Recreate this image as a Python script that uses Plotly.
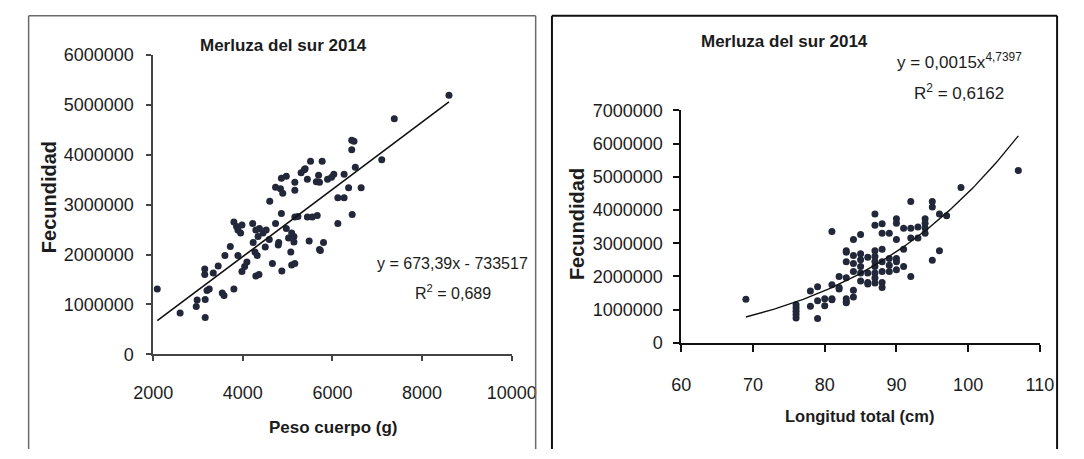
import numpy as np
import plotly.graph_objects as go

# ---- Panel 1: fecundity vs body weight ----
peso_g = [2090, 2600, 2960, 2980, 3160, 3160, 3200, 3250, 3150, 3150, 3340, 3450, 3540, 3580,
          3800, 3600, 3720, 3890, 3980, 4040, 4090, 3800, 3860, 3890, 3950, 3980, 4220, 4290,
          4340, 4370, 4450, 4520, 4230, 4270, 4320, 4290, 4360, 4500, 4590, 4660, 4790, 4870,
          5090, 5160, 5070, 5020, 5140, 5140, 4970, 4730, 4860, 5160, 4600, 4730, 4840, 4890,
          4860, 4970, 5160, 5160, 5300, 5370, 5440, 8600, 7380, 6430, 6480, 6430, 7100, 6510,
          6640, 6360, 6120, 6260, 6440, 6120, 6260, 6030, 5980, 5890, 5690, 5640, 5710, 5440,
          5770, 5510, 5390, 5550, 5660, 5480, 5800, 5710, 5230, 5090, 5730, 4800]
fec_peso = [1310000, 830000, 960000, 1090000, 1100000, 740000, 1280000, 1310000, 1600000,
            1710000, 1630000, 1770000, 1230000, 1180000, 1310000, 1980000, 2160000, 1980000,
            1660000, 1760000, 1850000, 2650000, 2560000, 2490000, 2430000, 2590000, 2620000,
            2490000, 2360000, 2520000, 2430000, 2490000, 2240000, 2050000, 1980000, 1570000,
            1600000, 2150000, 2300000, 1820000, 2190000, 1670000, 1790000, 1820000, 2050000,
            2330000, 2360000, 2250000, 2520000, 2620000, 2820000, 2750000, 3070000, 3350000,
            3320000, 3230000, 3530000, 3570000, 3450000, 3290000, 3640000, 3700000, 2750000,
            5190000, 4720000, 4290000, 4270000, 4100000, 3900000, 3750000, 3340000, 3340000,
            3140000, 3140000, 2800000, 2620000, 3610000, 3610000, 3550000, 3510000, 3590000,
            3460000, 3450000, 3510000, 3870000, 3870000, 3720000, 2750000, 2780000, 2270000,
            2240000, 2100000, 2760000, 2430000, 2080000, 2240000]

# ---- Panel 2: fecundity vs total length ----
longitud_cm = [69, 76, 76, 76, 76, 76, 79, 78, 79, 78, 79, 80, 81, 81, 82, 82, 81, 83, 83, 83,
               99, 92, 95, 95, 96, 97, 94, 94, 94, 94, 96, 95, 93, 93, 92, 92, 91, 90, 90, 90,
               91, 92, 91, 90, 90, 90, 89, 89, 89, 88, 88, 89, 87, 87, 88, 88, 88, 88, 88, 87,
               87, 87, 87, 87, 87, 87, 86, 86, 86, 85, 85, 85, 85, 84, 84, 84, 84, 85, 83, 83,
               85, 86, 84, 84, 83, 82, 80, 81, 83, 107]
fec_long = [1310000, 750000, 850000, 950000, 1050000, 1150000, 730000, 1560000, 1690000,
            1100000, 1270000, 1120000, 1300000, 1750000, 2000000, 1620000, 3350000, 2730000,
            2440000, 1210000, 4680000, 4260000, 4260000, 4090000, 3880000, 3830000, 3740000,
            3600000, 3460000, 3300000, 2770000, 2490000, 3490000, 3160000, 3450000, 3160000,
            3450000, 3740000, 3600000, 3110000, 2820000, 2000000, 2300000, 2540000, 2440000,
            2200000, 2540000, 2340000, 2150000, 2820000, 3300000, 3300000, 3880000, 3540000,
            3590000, 2440000, 2150000, 1820000, 1670000, 2770000, 2600000, 2450000, 2300000,
            2100000, 1950000, 1800000, 2580000, 2100000, 1820000, 2680000, 2500000, 2300000,
            2100000, 2630000, 2390000, 2150000, 3110000, 3260000, 2770000, 1960000, 1860000,
            1770000, 1580000, 1380000, 1240000, 1670000, 1330000, 1330000, 1330000, 5190000]

# Fitted trend lines as reported on the chart
lin_a, lin_b = 673.39, -733517
pot_a, pot_b = 0.0015, 4.7397

W, H = 1084, 459
NARROW = "Liberation Sans Narrow, Arial Narrow, Liberation Sans, Arial, sans-serif"
WIDE = "Liberation Sans, Arial, sans-serif"
INK = "#1c1c1c"
DOT = "#22283a"


def fx(p):
    return p / W


def fy(p):
    return 1 - p / H


fig = go.Figure()

fig.add_trace(go.Scatter(x=peso_g, y=fec_peso, mode="markers",
                         marker=dict(size=7, color=DOT), xaxis="x", yaxis="y",
                         showlegend=False))
xl = np.array([min(peso_g), max(peso_g)])
fig.add_trace(go.Scatter(x=xl, y=lin_a * xl + lin_b, mode="lines",
                         line=dict(color="#111111", width=1.6), xaxis="x", yaxis="y",
                         showlegend=False))

fig.add_trace(go.Scatter(x=longitud_cm, y=fec_long, mode="markers",
                         marker=dict(size=7, color=DOT), xaxis="x2", yaxis="y2",
                         showlegend=False))
xp = np.linspace(min(longitud_cm), max(longitud_cm), 120)
fig.add_trace(go.Scatter(x=xp, y=pot_a * xp ** pot_b, mode="lines",
                         line=dict(color="#111111", width=1.4), xaxis="x2", yaxis="y2",
                         showlegend=False))

tick_font = dict(family=NARROW, size=18, color=INK)
common = dict(showgrid=False, zeroline=False, showline=True, ticks="outside",
              tickfont=tick_font, tickformat="d", fixedrange=True)

fig.update_layout(
    width=W, height=H,
    margin=dict(l=0, r=0, t=0, b=0),
    paper_bgcolor="white", plot_bgcolor="white",
    xaxis=dict(domain=[fx(139), fx(513)], range=[2000, 10000], tickvals=[2000, 4000, 6000, 8000, 10000],
               anchor="y", linecolor="#444444", linewidth=1.5, ticklen=5, tickwidth=1.5,
               tickcolor="#444444", ticklabelstandoff=16, **common),
    yaxis=dict(domain=[fy(360), fy(47)], range=[0, 6000000], tickvals=list(range(0, 6000001, 1000000)),
               anchor="x", linecolor="#444444", linewidth=1.5, ticklen=5,
               tickwidth=1.5, tickcolor="#444444", ticklabelstandoff=9, **common),
    xaxis2=dict(domain=[fx(690), fx(1064)], range=[60, 110], tickvals=[60, 70, 80, 90, 100, 110],
                anchor="y2", linecolor="#111111", linewidth=2, ticklen=7, tickwidth=2,
                tickcolor="#111111", ticklabelstandoff=18, **common),
    yaxis2=dict(domain=[fy(348), fy(105)], range=[0, 7000000], tickvals=list(range(0, 7000001, 1000000)),
                anchor="x2", linecolor="#111111", linewidth=2, ticklen=6,
                tickwidth=2, tickcolor="#111111", ticklabelstandoff=7, **common),
)

# Panel frames (bottom edges run off the page)
frames = [
    dict(x0=9, x1=9, y0=6, y1=H, c="#6a6a6a", w=1.5),
    dict(x0=9, x1=538, y0=6, y1=6, c="#6a6a6a", w=1.5),
    dict(x0=538, x1=538, y0=6, y1=H, c="#6a6a6a", w=1.5),
    dict(x0=555, x1=555, y0=6, y1=H, c="#111111", w=2),
    dict(x0=555, x1=1082, y0=6, y1=6, c="#111111", w=2),
    dict(x0=1082, x1=1082, y0=6, y1=H, c="#111111", w=2),
]
for f in frames:
    fig.add_shape(type="line", xref="paper", yref="paper",
                  x0=fx(f["x0"]), x1=fx(f["x1"]), y0=fy(f["y0"]), y1=fy(f["y1"]),
                  line=dict(color=f["c"], width=f["w"]))


def label(text, x, y, size, family=NARROW, bold=False, angle=0):
    fig.add_annotation(text=text, x=fx(x), y=fy(y), xref="paper", yref="paper",
                       showarrow=False, xanchor="center", yanchor="middle", textangle=angle,
                       font=dict(family=family, size=size, color=INK,
                                 weight="bold" if bold else "normal"))


label("Merluza del sur 2014", 275, 37, 17, bold=True)
label("Merluza del sur 2014", 798, 33, 17, bold=True)
label("Fecundidad", 31, 196, 20, family=WIDE, bold=True, angle=-90)
label("Fecundidad", 581, 224, 20, family=WIDE, bold=True, angle=-90)
label("Peso cuerpo (g)", 327, 437, 17, bold=True)
label("Longitud total (cm)", 876, 425, 16.5, bold=True)
label("y = 673,39x - 733517", 451, 265, 16)
label("R<sup>2</sup> = 0,689", 452, 295, 16)
label("y = 0,0015x<sup>4,7397</sup>", 980, 53, 17)
label("R<sup>2</sup> = 0,6162", 980, 86, 17)

fig.write_html("out.html")
